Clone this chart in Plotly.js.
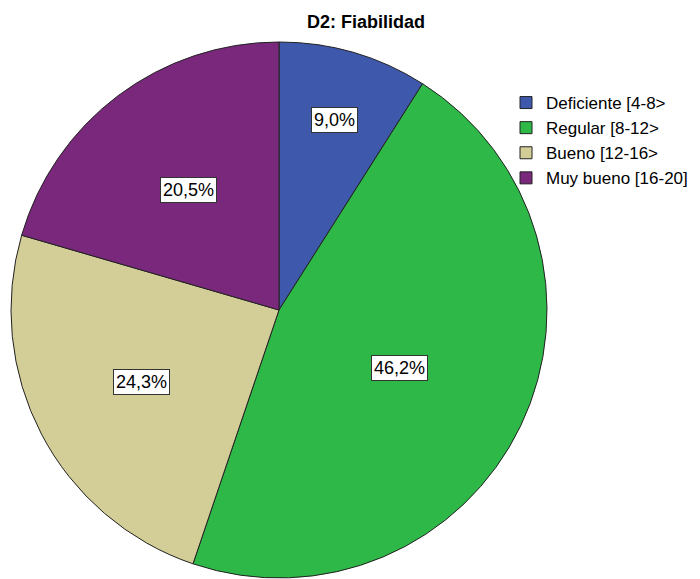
<!DOCTYPE html>
<html>
<head>
<meta charset="utf-8">
<script src="https://cdn.plot.ly/plotly-3.0.1.min.js"></script>
<style>body{margin:0;background:#fff}#chart{width:700px;height:579px}</style>
</head>
<body>
<div id="chart"></div>
<script>
var categories = ['Deficiente [4-8>', 'Regular [8-12>', 'Bueno [12-16>', 'Muy bueno [16-20]'];
var percents = [9.0, 46.2, 24.3, 20.5];
var colors = ['#3E58AC', '#2EB848', '#D3CE97', '#79287C'];
var labelRadius = [0.74, 0.5, 0.58, 0.56];

var W = 700, H = 579;
var dom = {x: [11 / W, 547 / W], y: [1 - 578 / H, 1 - 42 / H]};
var cx = (dom.x[0] + dom.x[1]) / 2 * W;
var cy = (1 - (dom.y[0] + dom.y[1]) / 2) * H;
var R = (dom.y[1] - dom.y[0]) * H / 2;

var total = percents.reduce(function (a, b) { return a + b; }, 0);
var annotations = [];
var cum = 0;
percents.forEach(function (p, i) {
  var mid = (cum + p / 2) / total * 2 * Math.PI;
  cum += p;
  var r = R * labelRadius[i];
  var px = cx + r * Math.sin(mid);
  var py = cy - r * Math.cos(mid);
  annotations.push({
    x: px / W, y: 1 - py / H, xref: 'paper', yref: 'paper',
    xanchor: 'center', yanchor: 'middle',
    text: p.toFixed(1).replace('.', ',') + '%', showarrow: false,
    font: {family: 'Liberation Sans, Arial', size: 18, color: '#000'},
    bgcolor: '#ffffff', bordercolor: '#333333', borderwidth: 1, borderpad: 2
  });
});

var trace = {
  type: 'pie', labels: categories, values: percents, sort: false,
  direction: 'clockwise', rotation: 0, textinfo: 'none', hoverinfo: 'label+percent',
  marker: {colors: colors, line: {color: '#222222', width: 1}},
  domain: dom
};

var layout = {
  width: W, height: H, margin: {l: 0, r: 0, t: 0, b: 0, autoexpand: false},
  paper_bgcolor: '#fff',
  title: {text: '<b>D2: Fiabilidad</b>', x: 366 / W, xanchor: 'center', y: 1 - 22 / H, yanchor: 'middle',
          font: {family: 'Liberation Sans, Arial', size: 18, color: '#000'}},
  showlegend: true,
  legend: {x: 506 / W, y: 1 - 85 / H, xanchor: 'left', yanchor: 'top',
           font: {family: 'Liberation Sans, Arial', size: 17, color: '#000'},
           tracegroupgap: 0, itemwidth: 30, bgcolor: 'rgba(0,0,0,0)'},
  annotations: annotations
};

Plotly.newPlot('chart', [trace], layout, {displayModeBar: false, staticPlot: true});
</script>
</body>
</html>
